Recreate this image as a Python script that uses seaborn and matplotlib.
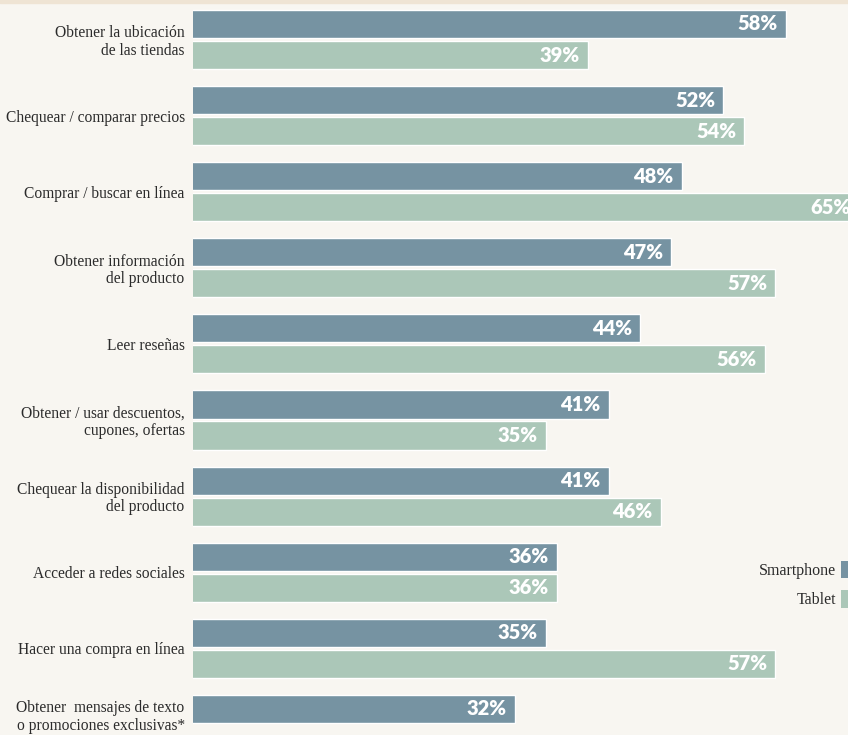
import numpy as np
import pandas as pd
import matplotlib
matplotlib.use("Agg")
import matplotlib.pyplot as plt
from matplotlib.patches import Rectangle, Patch
from matplotlib.transforms import ScaledTranslation
import seaborn as sns

categories = [
    "Obtener la ubicación\nde las tiendas",
    "Chequear / comparar precios",
    "Comprar / buscar en línea",
    "Obtener información\ndel producto",
    "Leer reseñas",
    "Obtener / usar descuentos,\ncupones, ofertas",
    "Chequear la disponibilidad\ndel producto",
    "Acceder a redes sociales",
    "Hacer una compra en línea",
    "Obtener  mensajes de texto\no promociones exclusivas*",
]
smartphone = [58, 52, 48, 47, 44, 41, 41, 36, 35, 32]
tablet = [39, 54, 65, 57, 56, 35, 46, 36, 57, np.nan]
series = ["Smartphone", "Tablet"]
colors = ["#7693a2", "#abc7b8"]

BG = "#f8f6f1"
TXT = "#2b2b2b"
sns.set_theme(style="white")

df = pd.DataFrame({
    "cat": categories * 2,
    "val": smartphone + tablet,
    "device": [series[0]] * len(categories) + [series[1]] * len(categories),
})

fig = plt.figure(figsize=(8.48, 7.35), dpi=100, facecolor=BG)
ax = fig.add_axes([193 / 848, 0, (848 - 193) / 848, 1])
ax.set_facecolor(BG)

sns.barplot(data=df, y="cat", x="val", hue="device", palette=colors,
            orient="h", width=0.815, gap=0.096, ax=ax, legend=False,
            errorbar=None, saturation=1)

ax.set_xlim(1.1, 63.96)
ax.set_ylim(9.139, -0.519)
ax.set_xlabel("")
ax.set_ylabel("")
ax.set_xticks([])
for s in ax.spines.values():
    s.set_visible(False)

ax.set_yticks(range(len(categories)))
ax.set_yticklabels(categories, family="Liberation Serif", fontsize=11.2,
                   color=TXT, linespacing=1.1)
ax.tick_params(axis="y", length=0, pad=6)

# last category has only one bar: lift its label
last = ax.get_yticklabels()[-1]
last.set_transform(last.get_transform() +
                   ScaledTranslation(0, 10 / 100, fig.dpi_scale_trans))

for cont in ax.containers:
    for p in cont.patches:
        w = p.get_width()
        if np.isnan(w) or w == 0:
            continue
        y = p.get_y() + p.get_height() / 2
        ax.annotate(f"{int(round(w))}%", xy=(w, y), xytext=(-6, 0),
                    textcoords="offset points", ha="right", va="center",
                    color="white", fontsize=14.5, fontweight="heavy",
                    family="Lato", annotation_clip=False)

handles = [Patch(facecolor=c, edgecolor="none") for c in colors]
leg = fig.legend(handles, series, loc="upper right",
                 bbox_to_anchor=(860 / 848, 1 - 561 / 735),
                 frameon=False, markerfirst=False, borderpad=0,
                 borderaxespad=0, handlelength=1.2, handleheight=1.3,
                 handletextpad=0.3, labelspacing=0.7,
                 prop={"family": "Liberation Serif", "size": 11.5})
for t in leg.get_texts():
    t.set_color(TXT)

fig.patches.append(Rectangle((0, 1 - 3 / 735), 1, 3 / 735,
                             transform=fig.transFigure, color="#efe4d4",
                             zorder=10))

fig.savefig("out.png", dpi=100, facecolor=BG)
